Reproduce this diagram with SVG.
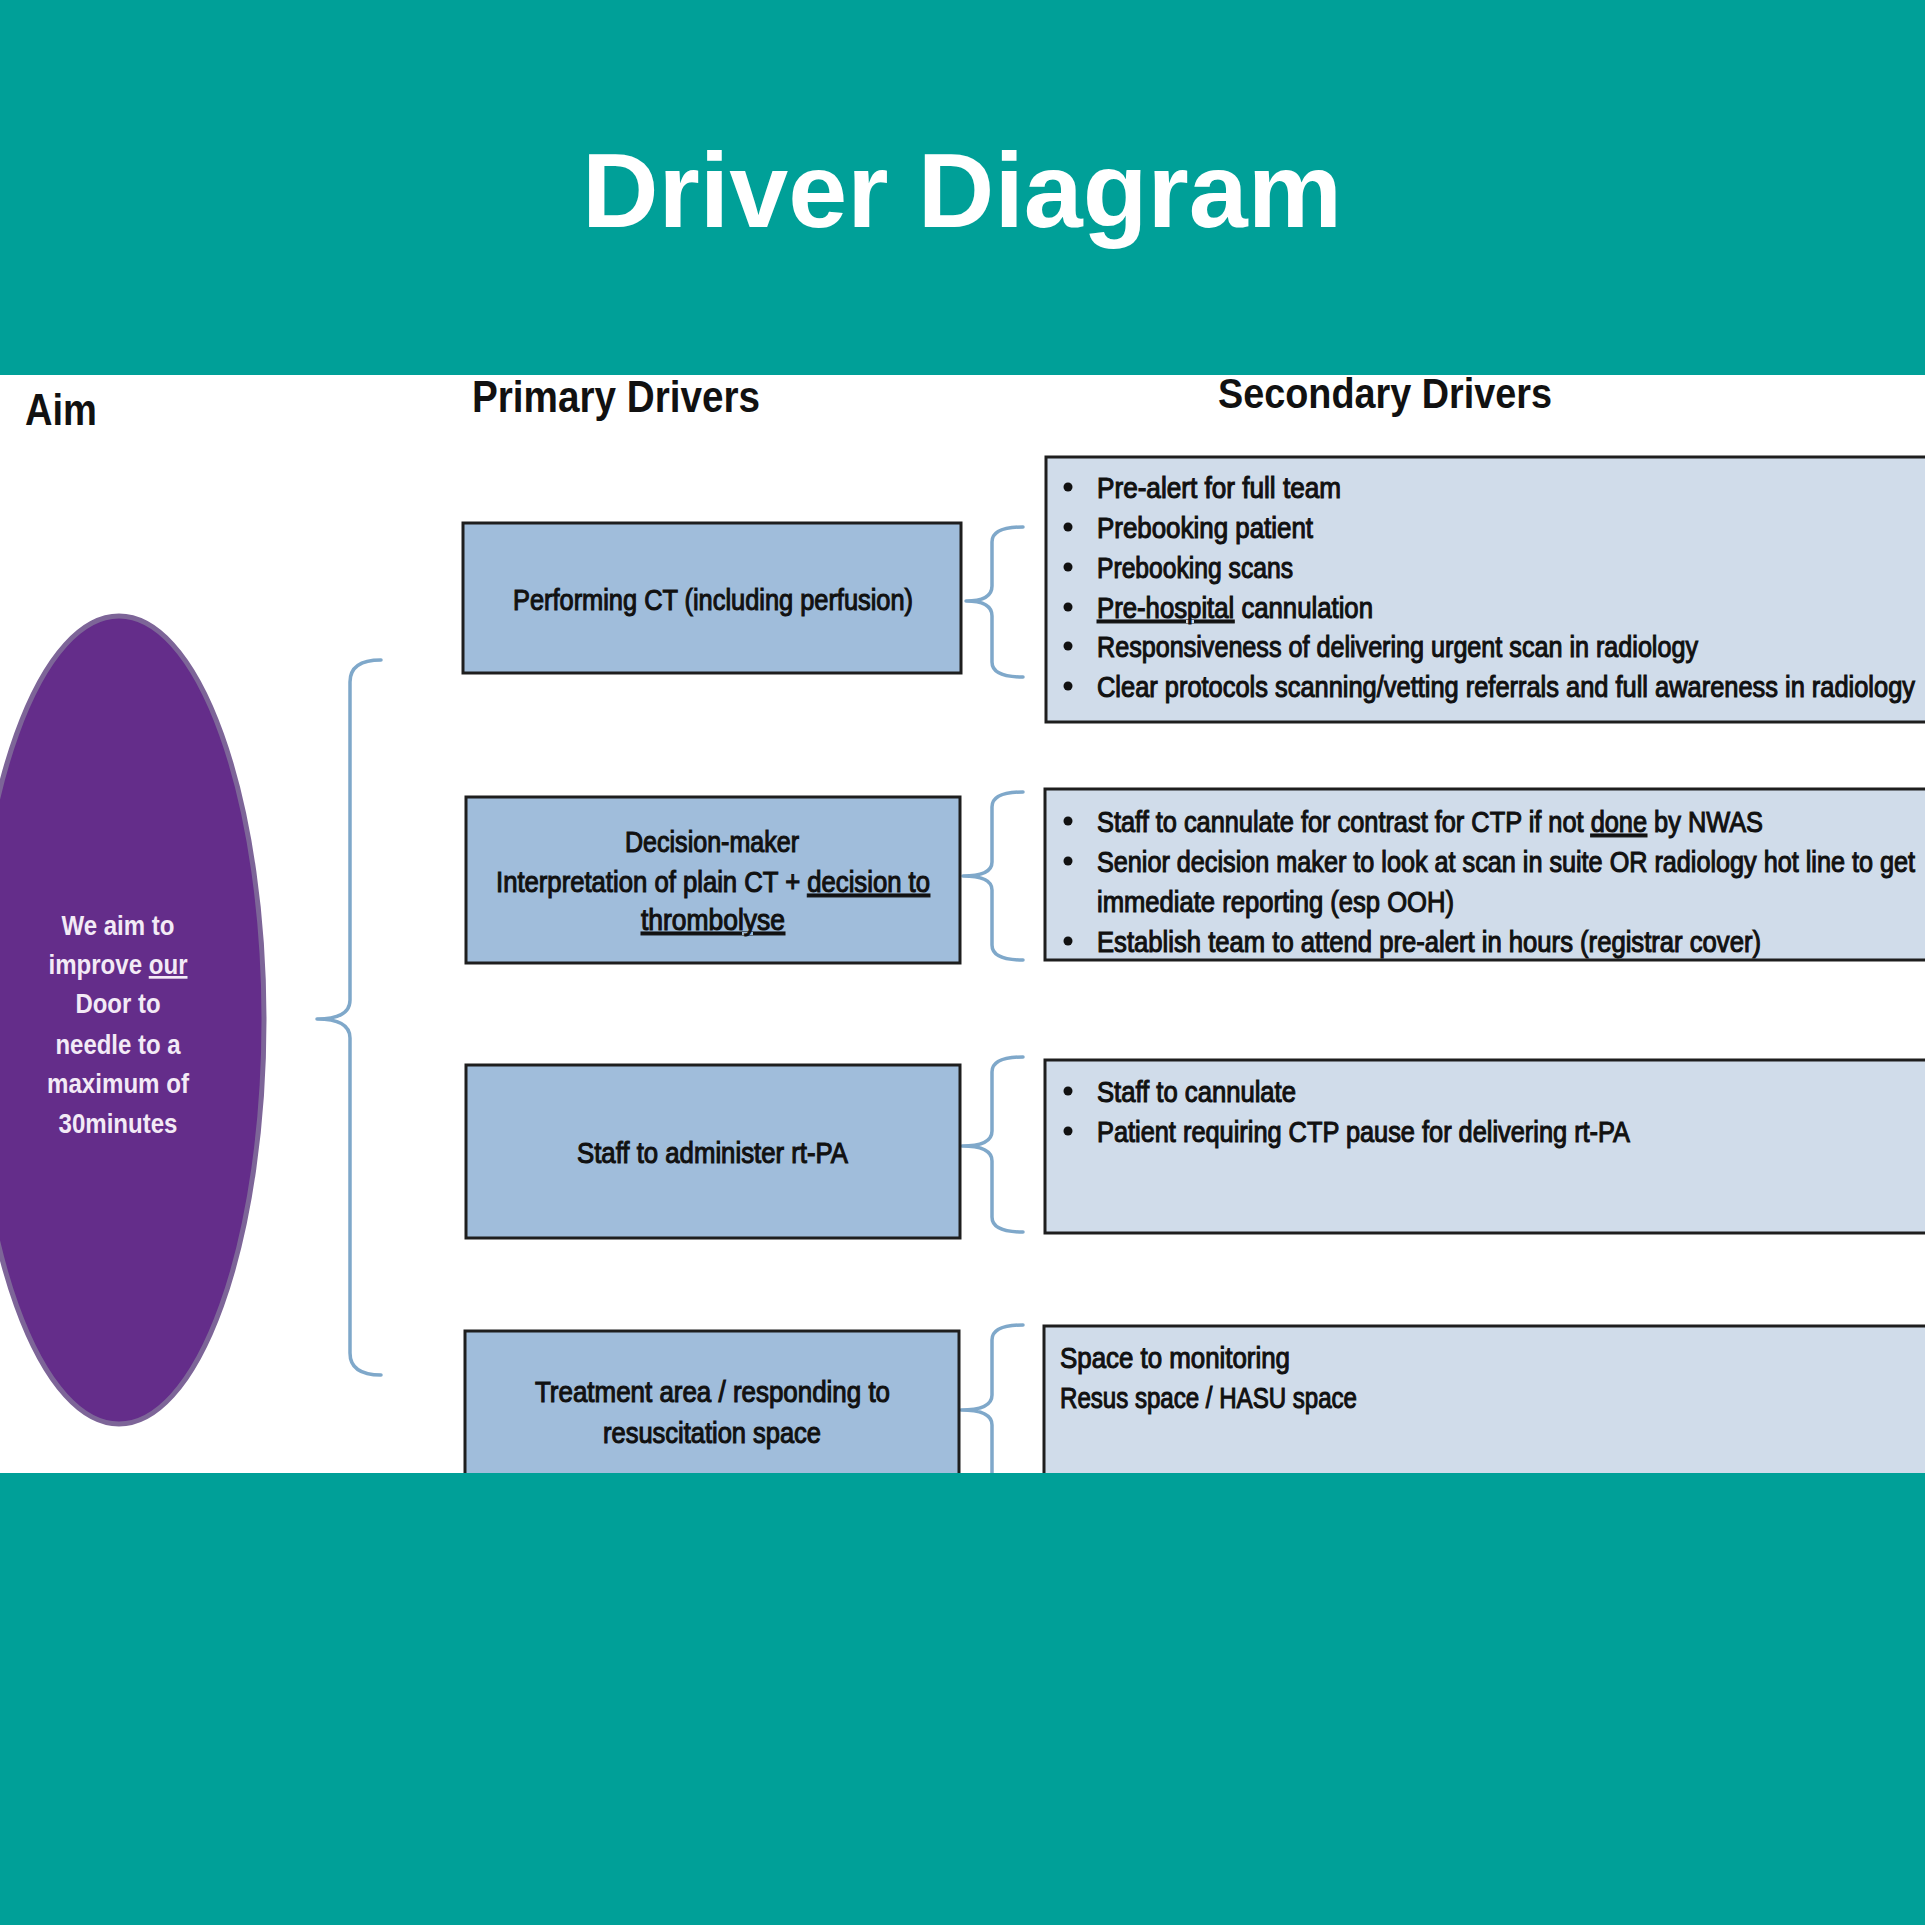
<svg xmlns="http://www.w3.org/2000/svg" width="1925" height="1925" viewBox="0 0 1925 1925">
<style>
.band{fill:#00A098}
.title{font-family:"Liberation Sans",Arial,sans-serif;font-weight:bold;font-size:106px;fill:#ffffff}
.head{font-family:"Liberation Sans Narrow","Liberation Sans",Arial,sans-serif;font-weight:bold;fill:#111111}
.pbox{fill:#A0BDDB;stroke:#1E1E1E;stroke-width:3}
.sbox{fill:#D0DCEA;stroke:#1E1E1E;stroke-width:3}
.t{font-family:"Liberation Sans Narrow","Liberation Sans",Arial,sans-serif;font-size:29px;fill:#111111;stroke:#111111;stroke-width:1.1}
.aim{font-family:"Liberation Sans Narrow","Liberation Sans",Arial,sans-serif;font-weight:bold;font-size:27px;fill:#F3EAF6;text-anchor:middle}
.brace{fill:none;stroke:#7FA8CA;stroke-width:3.5;stroke-linejoin:round;stroke-linecap:round}
.dot{fill:#111111}
.u{text-decoration:underline}
</style>
<rect x="0" y="0" width="1925" height="1925" fill="#ffffff"/>
<rect class="band" x="0" y="0" width="1925" height="375"/>
<text class="title" x="962" y="227" text-anchor="middle">Driver Diagram</text>

<g id="headings">
<text class="head" x="25" y="425" font-size="45" textLength="72" lengthAdjust="spacingAndGlyphs">Aim</text>
<text class="head" x="472" y="412" font-size="45" textLength="288" lengthAdjust="spacingAndGlyphs">Primary Drivers</text>
<text class="head" x="1218" y="408" font-size="43" textLength="334" lengthAdjust="spacingAndGlyphs">Secondary Drivers</text>
</g>

<g id="connectors">
<path class="brace" d="M381 660 Q350 660 350 682 L350 1000 Q350 1019 317 1019 Q350 1019 350 1038 L350 1353 Q350 1375 381 1375"/>
<path class="brace" d="M1023 527 Q992 527 992 542 L992 586 Q992 601 966 601 Q992 601 992 616 L992 662 Q992 677 1023 677"/>
<path class="brace" d="M1023 792 Q992 792 992 807 L992 862 Q992 876 963 876 Q992 876 992 890 L992 945 Q992 960 1023 960"/>
<path class="brace" d="M1023 1057 Q992 1057 992 1072 L992 1131 Q992 1146 962 1146 Q992 1146 992 1161 L992 1217 Q992 1232 1023 1232"/>
<path class="brace" d="M1023 1325 Q992 1325 992 1340 L992 1395 Q992 1410 961 1410 Q992 1410 992 1425 L992 1500"/>
</g>

<g id="aim">
<ellipse cx="119" cy="1020" rx="145" ry="404" fill="#642D8A" stroke="#7D6598" stroke-width="5"/>
<text class="aim" x="118" y="935" textLength="113" lengthAdjust="spacingAndGlyphs">We aim to</text>
<text class="aim" x="118" y="974" textLength="139" lengthAdjust="spacingAndGlyphs">improve <tspan class="u">our</tspan></text>
<text class="aim" x="118" y="1013" textLength="85" lengthAdjust="spacingAndGlyphs">Door to</text>
<text class="aim" x="118" y="1054" textLength="125" lengthAdjust="spacingAndGlyphs">needle to a</text>
<text class="aim" x="118" y="1093" textLength="142" lengthAdjust="spacingAndGlyphs">maximum of</text>
<text class="aim" x="118" y="1133" textLength="119" lengthAdjust="spacingAndGlyphs">30minutes</text>
</g>

<g id="primary1">
<rect class="pbox" x="463" y="523" width="498" height="150"/>
<text class="t" x="513" y="610" textLength="400" lengthAdjust="spacingAndGlyphs">Performing CT (including perfusion)</text>
</g>
<g id="primary2">
<rect class="pbox" x="466" y="797" width="494" height="166"/>
<text class="t" x="625" y="852" textLength="174" lengthAdjust="spacingAndGlyphs">Decision-maker</text>
<text class="t" x="496" y="892" textLength="434" lengthAdjust="spacingAndGlyphs">Interpretation of plain CT + <tspan class="u">decision to</tspan></text>
<text class="t" x="641" y="930" textLength="144" lengthAdjust="spacingAndGlyphs"><tspan class="u">thrombolyse</tspan></text>
</g>
<g id="primary3">
<rect class="pbox" x="466" y="1065" width="494" height="173"/>
<text class="t" x="577" y="1163" textLength="271" lengthAdjust="spacingAndGlyphs">Staff to administer rt-PA</text>
</g>
<g id="primary4">
<rect class="pbox" x="465" y="1331" width="494" height="200"/>
<text class="t" x="535" y="1402" textLength="355" lengthAdjust="spacingAndGlyphs">Treatment area / responding to</text>
<text class="t" x="603" y="1443" textLength="218" lengthAdjust="spacingAndGlyphs">resuscitation space</text>
</g>

<g id="secondary1">
<rect class="sbox" x="1046" y="457" width="900" height="265"/>
<circle class="dot" cx="1068" cy="487" r="4.5"/>
<circle class="dot" cx="1068" cy="527" r="4.5"/>
<circle class="dot" cx="1068" cy="567" r="4.5"/>
<circle class="dot" cx="1068" cy="607" r="4.5"/>
<circle class="dot" cx="1068" cy="646" r="4.5"/>
<circle class="dot" cx="1068" cy="686" r="4.5"/>
<text class="t" x="1097" y="498" textLength="244" lengthAdjust="spacingAndGlyphs">Pre-alert for full team</text>
<text class="t" x="1097" y="538" textLength="216" lengthAdjust="spacingAndGlyphs">Prebooking patient</text>
<text class="t" x="1097" y="578" textLength="196" lengthAdjust="spacingAndGlyphs">Prebooking scans</text>
<text class="t" x="1097" y="618" textLength="276" lengthAdjust="spacingAndGlyphs"><tspan class="u">Pre-hospital</tspan> cannulation</text>
<text class="t" x="1097" y="657" textLength="601" lengthAdjust="spacingAndGlyphs">Responsiveness of delivering urgent scan in radiology</text>
<text class="t" x="1097" y="697" textLength="818" lengthAdjust="spacingAndGlyphs">Clear protocols scanning/vetting referrals and full awareness in radiology</text>
</g>
<g id="secondary2">
<rect class="sbox" x="1045" y="789" width="900" height="171"/>
<circle class="dot" cx="1068" cy="821" r="4.5"/>
<circle class="dot" cx="1068" cy="861" r="4.5"/>
<circle class="dot" cx="1068" cy="941" r="4.5"/>
<text class="t" x="1097" y="832" textLength="666" lengthAdjust="spacingAndGlyphs">Staff to cannulate for contrast for CTP if not <tspan class="u">done</tspan> by NWAS</text>
<text class="t" x="1097" y="872" textLength="818" lengthAdjust="spacingAndGlyphs">Senior decision maker to look at scan in suite OR radiology hot line to get</text>
<text class="t" x="1097" y="912" textLength="357" lengthAdjust="spacingAndGlyphs">immediate reporting (esp OOH)</text>
<text class="t" x="1097" y="952" textLength="664" lengthAdjust="spacingAndGlyphs">Establish team to attend pre-alert in hours (registrar cover)</text>
</g>
<g id="secondary3">
<rect class="sbox" x="1045" y="1060" width="900" height="173"/>
<circle class="dot" cx="1068" cy="1091" r="4.5"/>
<circle class="dot" cx="1068" cy="1131" r="4.5"/>
<text class="t" x="1097" y="1102" textLength="199" lengthAdjust="spacingAndGlyphs">Staff to cannulate</text>
<text class="t" x="1097" y="1142" textLength="533" lengthAdjust="spacingAndGlyphs">Patient requiring CTP pause for delivering rt-PA</text>
</g>
<g id="secondary4">
<rect class="sbox" x="1044" y="1326" width="900" height="200"/>
<text class="t" x="1060" y="1368" textLength="230" lengthAdjust="spacingAndGlyphs">Space to monitoring</text>
<text class="t" x="1060" y="1408" textLength="297" lengthAdjust="spacingAndGlyphs">Resus space / HASU space</text>
</g>

<rect class="band" x="0" y="1473" width="1925" height="452"/>
</svg>
